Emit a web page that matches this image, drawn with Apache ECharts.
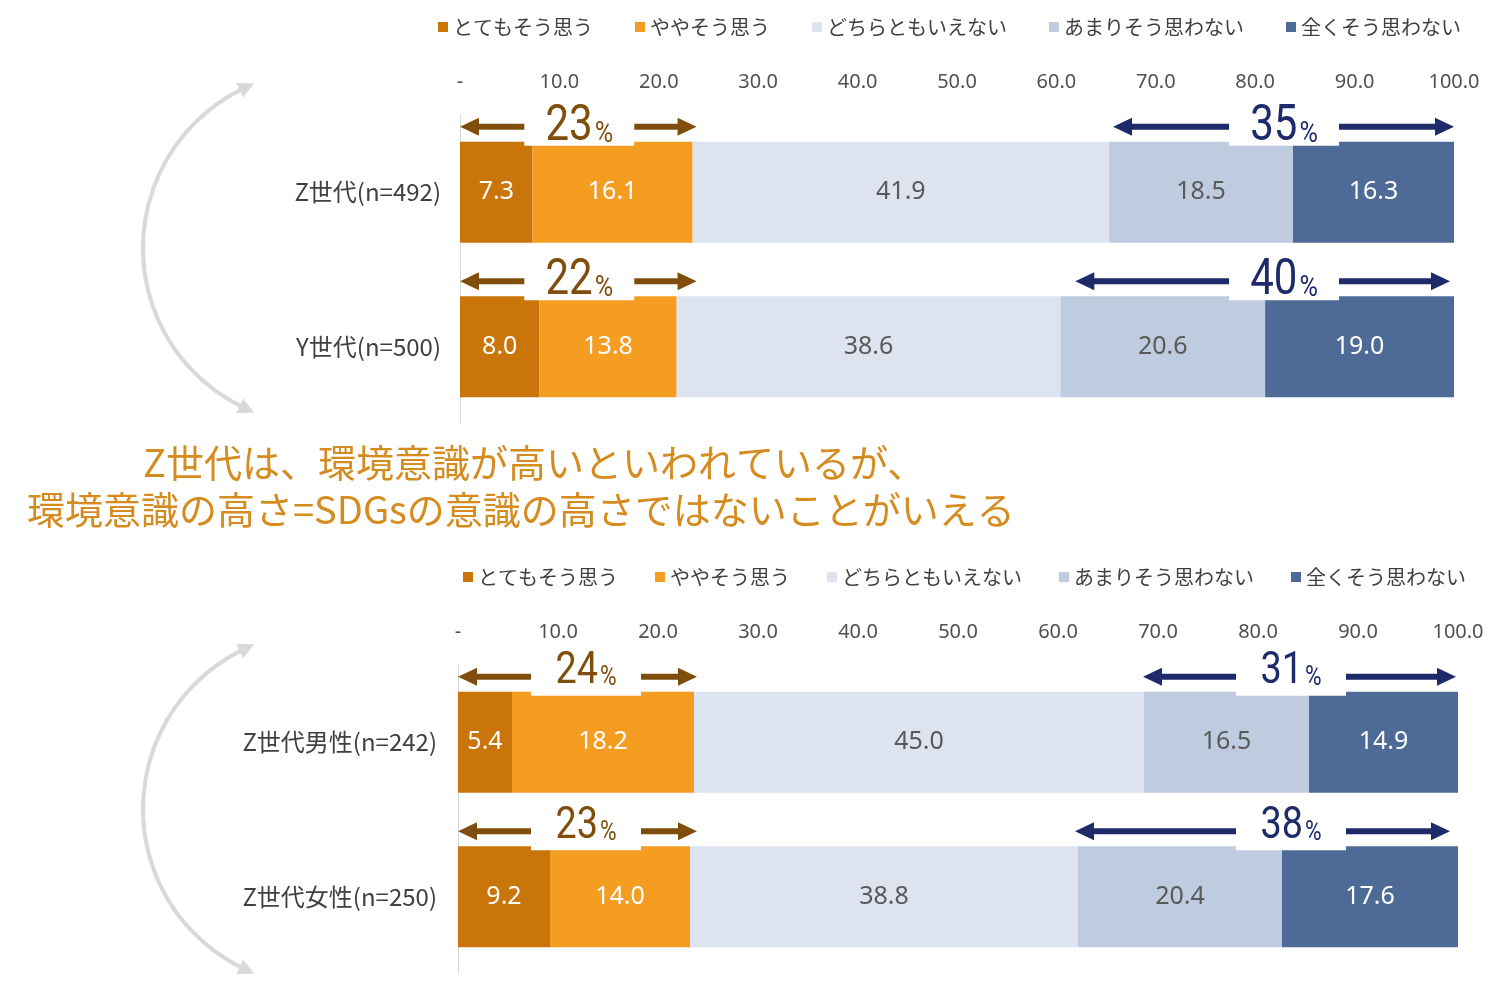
<!DOCTYPE html>
<html><head><meta charset="utf-8">
<script src="https://cdn.jsdelivr.net/npm/echarts@6/dist/echarts.min.js"></script>
<style>html,body{margin:0;padding:0;background:#fff}#chart{width:1501px;height:991px}</style>
</head><body><div id="chart"></div>
<script>
// ---------- data ----------
const seriesNames = ['とてもそう思う', 'ややそう思う', 'どちらともいえない', 'あまりそう思わない', '全くそう思わない'];
const categoriesTop = ['Z世代(n=492)', 'Y世代(n=500)'];
const categoriesBottom = ['Z世代男性(n=242)', 'Z世代女性(n=250)'];

const topStronglyAgree = [7.3, 8.0];
const topAgree = [16.1, 13.8];
const topNeutral = [41.9, 38.6];
const topDisagree = [18.5, 20.6];
const topStronglyDisagree = [16.3, 19.0];

const bottomStronglyAgree = [5.4, 9.2];
const bottomAgree = [18.2, 14.0];
const bottomNeutral = [45.0, 38.8];
const bottomDisagree = [16.5, 20.4];
const bottomStronglyDisagree = [14.9, 17.6];

// bracket annotations: [from, to, label centre] in axis units, and their labels
const topAgreeLabel = ['23', '22'];
const topAgreeRange = [[0, 23.8, 12.0], [0, 23.8, 12.0]];
const topDisagreeLabel = ['35', '40'];
const topDisagreeRange = [[65.7, 100, 82.9], [61.9, 99.6, 82.9]];
const bottomAgreeLabel = ['24', '23'];
const bottomAgreeRange = [[0, 23.9, 12.8], [0, 23.9, 12.8]];
const bottomDisagreeLabel = ['31', '38'];
const bottomDisagreeRange = [[68.5, 99.8, 83.3], [61.7, 99.2, 83.3]];

const noteLines = ['Z世代は、環境意識が高いといわれているが、', '環境意識の高さ=SDGsの意識の高さではないことがいえる'];

// ---------- styles ----------
const segColors = ['#C97509', '#F59D21', '#DDE4EF', '#BFCCDF', '#4D6B96'];
const segLabelColors = ['#ffffff', '#ffffff', '#595959', '#595959', '#ffffff'];
const agreeColor = '#7F4E0C';
const disagreeColor = '#1F2A6B';
const CJK = '"Noto Sans CJK JP", "Noto Sans", sans-serif';
const NUM = '"Noto Sans", sans-serif';
const THIN = 'Roboto, "Noto Sans", sans-serif';
const BAR_W = 101;
const SX = 0.84;

const mctx = document.createElement('canvas').getContext('2d');
function tw(text, size, family) { mctx.font = size + 'px ' + family; return mctx.measureText(text).width; }

function barSeries(gridIdx, stack, arrays) {
  return arrays.map((arr, i) => ({
    name: seriesNames[i], type: 'bar', stack: stack,
    xAxisIndex: gridIdx, yAxisIndex: gridIdx,
    barWidth: BAR_W, z: 2,
    itemStyle: { color: segColors[i] },
    label: {
      show: true, position: 'inside',
      formatter: p => Number(p.value).toFixed(1),
      fontSize: 25, fontFamily: NUM, color: segLabelColors[i]
    },
    emphasis: { disabled: true },
    data: arr
  }));
}

function annoSeries(gridIdx, labelsA, rangesA, labelsD, rangesD, digitSize, baseOff) {
  const items = [];
  rangesA.forEach((r, i) => items.push({ value: [r[0], r[1], r[2], i], txt: labelsA[i], color: agreeColor }));
  rangesD.forEach((r, i) => items.push({ value: [r[0], r[1], r[2], i], txt: labelsD[i], color: disagreeColor }));
  return {
    type: 'custom', xAxisIndex: gridIdx, yAxisIndex: gridIdx, z: 10, clip: false, silent: true,
    encode: { x: [0, 1, 2], y: 3 },
    data: items.map(d => d.value),
    renderItem: function (params, api) {
      const it = items[params.dataIndex];
      const cat = api.value(3);
      const p1 = api.coord([api.value(0), cat]);
      const x2 = api.coord([api.value(1), cat])[0];
      const xc = api.coord([api.value(2), cat])[0];
      const x1 = p1[0];
      const barTop = p1[1] - BAR_W / 2;
      const ay = barTop - 15;
      const GAP = 55, HL = 19, HH = 9, LT = 6;
      const col = it.color;
      const pctSize = Math.round(digitSize * 0.6);
      const wD = tw(it.txt, digitSize, THIN) * SX, wP = tw('%', pctSize, THIN) * SX;
      const left = xc - (wD + wP + 2) / 2;
      const baseline = barTop - baseOff;
      return {
        type: 'group',
        children: [
          { type: 'rect', shape: { x: xc - GAP, y: barTop - 48, width: GAP * 2, height: 52 }, style: { fill: '#ffffff' } },
          { type: 'rect', shape: { x: x1 + HL - 1, y: ay - LT / 2, width: (xc - GAP) - (x1 + HL - 1), height: LT }, style: { fill: col } },
          { type: 'polygon', shape: { points: [[x1, ay], [x1 + HL, ay - HH], [x1 + HL, ay + HH]] }, style: { fill: col } },
          { type: 'rect', shape: { x: xc + GAP, y: ay - LT / 2, width: (x2 - HL + 1) - (xc + GAP), height: LT }, style: { fill: col } },
          { type: 'polygon', shape: { points: [[x2, ay], [x2 - HL, ay - HH], [x2 - HL, ay + HH]] }, style: { fill: col } },
          { type: 'text', x: left, y: baseline - 0.35 * digitSize, scaleX: SX,
            style: { text: it.txt, x: 0, y: 0, fill: col, fontSize: digitSize, fontFamily: THIN, align: 'left', verticalAlign: 'middle' } },
          { type: 'text', x: left + wD + 2, y: baseline - 0.35 * pctSize, scaleX: SX,
            style: { text: '%', x: 0, y: 0, fill: col, fontSize: pctSize, fontFamily: THIN, align: 'left', verticalAlign: 'middle' } }
        ]
      };
    }
  };
}

// decorative curved double arrows
function curve(dy) {
  const cx = 320, cy = 248 + dy, r = 177;
  const a1 = 115.4 * Math.PI / 180, a2 = 244.6 * Math.PI / 180;
  const col = '#D9D9D9';
  const topEnd = [cx + r * Math.cos(a2), cy + r * Math.sin(a2)];
  const botEnd = [cx + r * Math.cos(a1), cy + r * Math.sin(a1)];
  const tTop = [-Math.sin(a2), Math.cos(a2)];
  const tBot = [Math.sin(a1), -Math.cos(a1)];
  function head(p, t) {
    const len = 16, half = 8;
    const tip = [p[0] + t[0] * len * 0.7, p[1] + t[1] * len * 0.7];
    const b = [tip[0] - t[0] * len, tip[1] - t[1] * len];
    return { type: 'polygon', silent: true, shape: { points: [tip, [b[0] - t[1] * half, b[1] + t[0] * half], [b[0] + t[1] * half, b[1] - t[0] * half]] }, style: { fill: col } };
  }
  return [
    { type: 'arc', silent: true, shape: { cx: cx, cy: cy, r: r, startAngle: a1, endAngle: a2, clockwise: true }, style: { stroke: col, lineWidth: 4, fill: null } },
    head(topEnd, tTop), head(botEnd, tBot)
  ];
}

function xAxisCfg(gridIdx) {
  return {
    gridIndex: gridIdx, type: 'value', position: 'top', min: 0, max: 100, interval: 10,
    axisLine: { show: false }, axisTick: { show: false }, splitLine: { show: false },
    axisLabel: { margin: 23, fontSize: 20, fontFamily: NUM, color: '#505050',
      formatter: v => v === 0 ? '-' : v.toFixed(1) }
  };
}
function yAxisCfg(gridIdx, cats, margin) {
  return {
    gridIndex: gridIdx, type: 'category', inverse: true, data: cats,
    axisLine: { show: true, lineStyle: { color: '#D9D9D9', width: 1 } },
    axisTick: { show: false },
    axisLabel: { margin: margin, fontSize: 24, fontFamily: CJK, color: '#404040' }
  };
}
function legendCfg(top, left, gap) {
  return {
    top: top, left: left, icon: 'rect', itemWidth: 10, itemHeight: 10, itemGap: gap,
    data: seriesNames, selectedMode: false,
    textStyle: { fontSize: 20, fontFamily: CJK, color: '#404040' }
  };
}

const chart = echarts.init(document.getElementById('chart'), null, { renderer: 'canvas' });
chart.setOption({
  backgroundColor: '#ffffff',
  animation: false,
  legend: [legendCfg(12, 433, 42), legendCfg(562, 458, 37)],
  grid: [
    { left: 460, right: 47, top: 115, height: 309 },
    { left: 458, right: 43, top: 665, height: 309 }
  ],
  xAxis: [xAxisCfg(0), xAxisCfg(1)],
  yAxis: [yAxisCfg(0, categoriesTop, 19), yAxisCfg(1, categoriesBottom, 21)],
  series: [
    ...barSeries(0, 'top', [topStronglyAgree, topAgree, topNeutral, topDisagree, topStronglyDisagree]),
    ...barSeries(1, 'bottom', [bottomStronglyAgree, bottomAgree, bottomNeutral, bottomDisagree, bottomStronglyDisagree]),
    annoSeries(0, topAgreeLabel, topAgreeRange, topDisagreeLabel, topDisagreeRange, 50, -3),
    annoSeries(1, bottomAgreeLabel, bottomAgreeRange, bottomDisagreeLabel, bottomDisagreeRange, 45, 4)
  ],
  graphic: [
    ...curve(0), ...curve(561),
    { type: 'text', x: 143, y: 463, silent: true, style: { text: noteLines[0], fontSize: 38, fontFamily: CJK, fill: '#D58B1E', align: 'left', verticalAlign: 'middle' } },
    { type: 'text', x: 27, y: 510, silent: true, style: { text: noteLines[1], fontSize: 38, fontFamily: CJK, fill: '#D58B1E', align: 'left', verticalAlign: 'middle' } }
  ]
});
</script></body></html>
